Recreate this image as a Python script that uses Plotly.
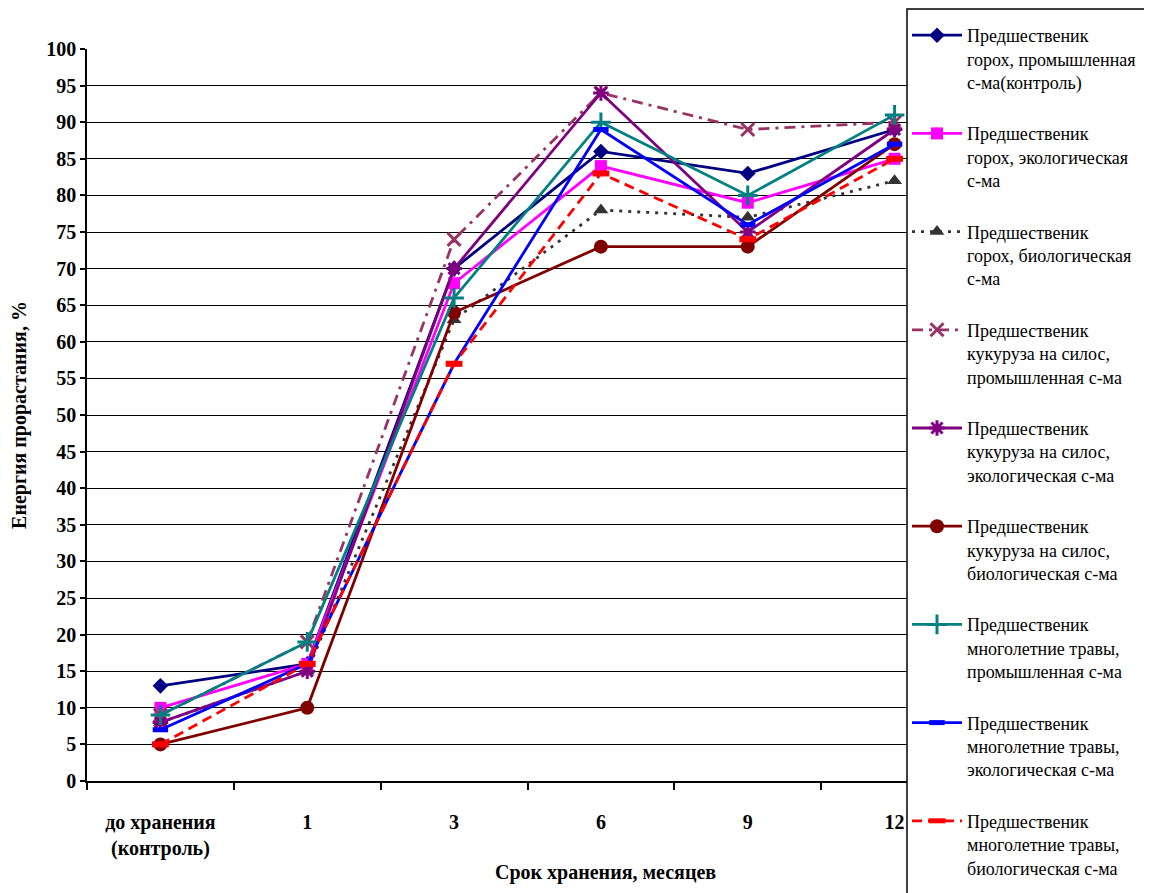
import plotly.graph_objects as go

categories = ["до хранения<br>(контроль)", "1", "3", "6", "9", "12"]

names = [
    "Предшественик<br>горох, промышленная<br>с-ма(контроль)",
    "Предшественик<br>горох, экологическая<br>с-ма",
    "Предшественик<br>горох, биологическая<br>с-ма",
    "Предшественик<br>кукуруза на силос,<br>промышленная с-ма",
    "Предшественик<br>кукуруза на силос,<br>экологическая с-ма",
    "Предшественик<br>кукуруза на силос,<br>биологическая с-ма",
    "Предшественик<br>многолетние травы,<br>промышленная с-ма",
    "Предшественик<br>многолетние травы,<br>экологическая с-ма",
    "Предшественик<br>многолетние травы,<br>биологическая с-ма",
]

pea_industrial = [13, 16, 70, 86, 83, 89]
pea_ecological = [10, 16, 68, 84, 79, 85]
pea_biological = [8, 15, 63, 78, 77, 82]
corn_industrial = [9, 19, 74, 94, 89, 90]
corn_ecological = [8, 15, 70, 94, 75, 89]
corn_biological = [5, 10, 64, 73, 73, 87]
grass_industrial = [9, 19, 66, 90, 80, 91]
grass_ecological = [7, 16, 57, 89, 76, 87]
grass_biological = [5, 16, 57, 83, 74, 85]

series = [pea_industrial, pea_ecological, pea_biological,
          corn_industrial, corn_ecological, corn_biological,
          grass_industrial, grass_ecological, grass_biological]

styles = [
    dict(color="#000080", dash="solid", symbol="diamond", size=12, lw=0),
    dict(color="#FF00FF", dash="solid", symbol="square", size=12, lw=0),
    dict(color="#333333", dash="3px,6px", symbol="triangle-up", size=13, lw=0),
    dict(color="#993366", dash="11px,6px,3px,6px", symbol="x-thin", size=13, lw=3),
    dict(color="#800080", dash="solid", symbol="asterisk", size=13, lw=3),
    dict(color="#800000", dash="solid", symbol="circle", size=14, lw=0),
    dict(color="#008080", dash="solid", symbol="cross-thin", size=14, lw=3),
    dict(color="#0000FF", dash="solid", symbol="line-ew", size=11, lw=5),
    dict(color="#FF0000", dash="10px,6px", symbol="line-ew", size=12, lw=6),
]

fig = go.Figure()
for i, (nm, vals, st) in enumerate(zip(names, series, styles)):
    fig.add_trace(go.Scatter(
        x=categories, y=vals, name=nm, mode="lines+markers",
        legendgroup="g%d" % i,
        line=dict(color=st["color"], dash=st["dash"], width=2.8),
        marker=dict(symbol=st["symbol"], size=st["size"], color=st["color"],
                    line=dict(color=st["color"], width=st["lw"])),
    ))

font_family = "Liberation Serif"

# page is offset by the 8px body margin
W, H = 1144, 885
ML, MR, MT, MB = 79, 184, 41, 112
PW = W - ML - MR
PH = H - MT - MB

legend_left = (899 - ML) / PW

fig.update_layout(
    width=W, height=H,
    margin=dict(l=ML, r=MR, t=MT, b=MB, autoexpand=False),
    paper_bgcolor="white", plot_bgcolor="white",
    font=dict(family=font_family, color="black"),
    showlegend=True,
    legend=dict(
        x=legend_left, xanchor="left",
        y=1 + (MT - 9) / PH, yanchor="top",
        bgcolor="rgba(0,0,0,0)", borderwidth=0,
        font=dict(family=font_family, size=18, color="black"),
        itemwidth=50, valign="top", tracegroupgap=25,
        traceorder="grouped", maxheight=2000,
    ),
    xaxis=dict(
        type="category", range=[-0.5, 5.5],
        showline=True, linecolor="black", linewidth=1.5,
        ticks="outside", tickson="boundaries", ticklen=7, tickcolor="black", tickwidth=1.5,
        tickfont=dict(family=font_family, size=20, color="black", weight="bold"),
        ticklabelstandoff=22,
        showgrid=False, zeroline=False,
    ),
    yaxis=dict(
        range=[0, 100], dtick=5, tick0=0,
        showline=True, linecolor="black", linewidth=1.5,
        ticks="outside", ticklen=5, tickcolor="black", tickwidth=1.5,
        tickfont=dict(family=font_family, size=20, color="black", weight="bold"),
        showgrid=True, gridcolor="black", gridwidth=1.2,
        zeroline=False,
        title=dict(text="Енергия прорастания, %",
                   font=dict(family=font_family, size=20, color="black", weight="bold"),
                   standoff=22),
    ),
    shapes=[dict(
        type="rect", xref="paper", yref="paper", layer="above",
        x0=legend_left, x1=1.6, y0=-0.5, y1=1 + (MT - 1) / PH,
        fillcolor="white", line=dict(color="black", width=1.5),
    )],
    annotations=[dict(
        text="Срок хранения, месяцев", xref="paper", yref="paper",
        x=(597 - ML) / PW, y=-(873 - 781) / PH,
        xanchor="center", yanchor="middle", showarrow=False,
        font=dict(family=font_family, size=20, color="black", weight="bold"),
    )],
)

fig.write_html("out.html")
